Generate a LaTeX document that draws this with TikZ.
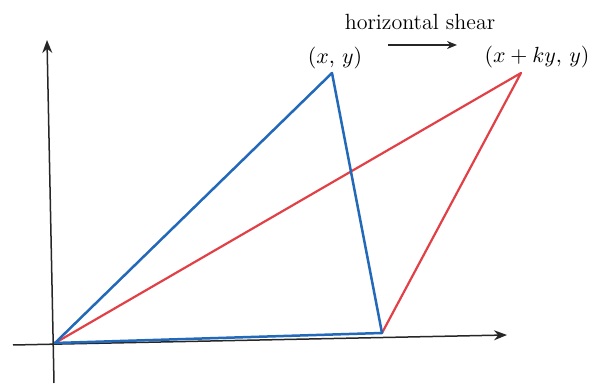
\documentclass[tikz,border=0pt]{standalone}
\usetikzlibrary{arrows.meta}
\definecolor{tblue}{RGB}{35,105,185}
\definecolor{tred}{RGB}{225,65,70}
\begin{document}
\begin{tikzpicture}[x=0.5pt,y=-0.5pt,
  axis/.style={draw=black!85,line width=0.75pt,-{Stealth[length=6.5pt,width=5pt]}},
  blueline/.style={draw=tblue,line width=1.25pt,line join=round},
  redline/.style={draw=tred,line width=1.1pt,line join=round},
  lbl/.style={inner sep=0pt,font=\fontsize{11}{13}\selectfont}]
\useasboundingbox (0,0) rectangle (591,384);
\coordinate (xs) at (13,345);
\coordinate (xe) at (507,335);
\coordinate (ys) at (54,383);
\coordinate (ye) at (47,40);
\coordinate (O) at (55,343);
\coordinate (P) at (332,73);
\coordinate (Q) at (521,73);
\coordinate (B) at (382,333);
\draw[axis] (xs) -- (xe);
\draw[axis] (ys) -- (ye);
\draw[redline] (O) -- (Q) -- (B);
\draw[blueline] (O) -- (P) -- (B) -- cycle;
\node[lbl] (lp) at (335,58) {$(x,\,y)$};
\node[lbl] (lq) at (537,57) {$(x + ky,\,y)$};
\node[lbl] (ls) at (420,22) {horizontal shear};
\coordinate (as) at (388,45);
\coordinate (ae) at (457,45);
\draw[draw=black!85,line width=0.6pt,-{Stealth[length=5pt,width=4pt]}] (as) -- (ae);
\end{tikzpicture}
\end{document}
